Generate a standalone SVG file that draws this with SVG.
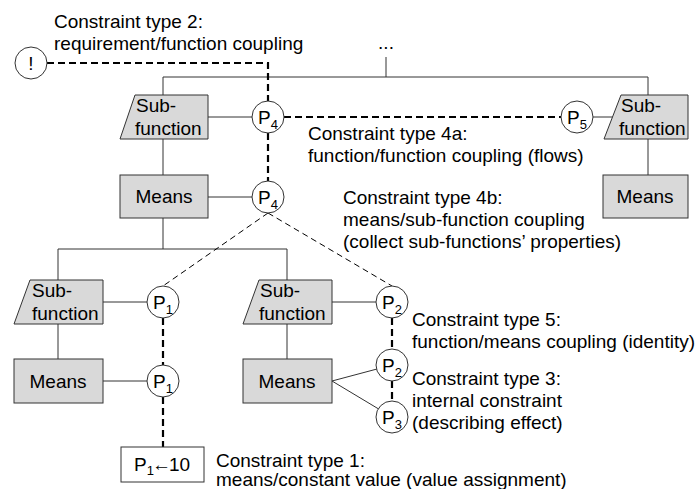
<svg xmlns="http://www.w3.org/2000/svg" width="696" height="489" viewBox="0 0 696 489">
  <style>
    text { font-family: "Liberation Sans", Arial, sans-serif; font-size: 19px; fill: #000; }
    .sub { font-size: 13px; }
    .box { fill: #d9d9d9; stroke: #333; stroke-width: 1; }
    .val { fill: #fff; stroke: #333; stroke-width: 1; }
    .pc { fill: #fff; stroke: #333; stroke-width: 1; }
    .ln { fill: none; stroke: #333; stroke-width: 1; }
    .dash { fill: none; stroke: #000; stroke-width: 2.2; stroke-dasharray: 7 4; }
    .thin { fill: none; stroke: #000; stroke-width: 1; stroke-dasharray: 6 4; }
    .mid { text-anchor: middle; }
  </style>
  <rect width="696" height="489" fill="#fff"/>

  <!-- connectors: tree links (solid) and constraint couplings (dashed) -->
  <g id="connectors">
    <path class="ln" d="M386,57 V77 M163,77 H648 M163,77 V95 M648,77 V95
                        M163,139 V175 M163,218 V249 M648,139 V175
                        M58,249 H287 M58,249 V280 M58,324 V359 M287,249 V280 M287,324 V359
                        M208,117 H252 M593,117 H613 M103,302 H147 M332,302 H376
                        M208,197 H252 M103,381 H147
                        M332,381 L392,365 M332,381 L392,417"/>
    <path class="dash" d="M47,63 H268 V101"/>
    <path class="dash" d="M268,133 V181"/>
    <path class="dash" d="M284,117 H561"/>
    <path class="dash" d="M163,318 V365 M163,397 V447"/>
    <path class="dash" d="M392,318 V349 M392,381 V401"/>
    <path class="thin" d="M268,213 L163,286 M268,213 L392,286"/>
  </g>

  <!-- requirement -->
  <g id="req">
    <circle class="pc" cx="31" cy="63" r="16"/>
    <text class="mid" x="31" y="70">!</text>
  </g>
  <g id="ellipsis"><text class="mid" x="386" y="49">...</text></g>

  <!-- top level: left branch -->
  <g id="sf-top">
    <polygon class="box" points="135,95 208,95 208,139 120,139"/>
    <text x="136" y="112">Sub-</text>
    <text x="135" y="135">function</text>
  </g>
  <g id="p4-sf"><circle class="pc" cx="268" cy="117" r="16"/><text class="mid" x="268" y="124">P<tspan class="sub" dy="5">4</tspan></text></g>
  <g id="means-top">
    <rect class="box" x="120" y="175" width="88" height="43"/>
    <text class="mid" x="164" y="203">Means</text>
  </g>
  <g id="p4-m"><circle class="pc" cx="268" cy="197" r="16"/><text class="mid" x="268" y="204">P<tspan class="sub" dy="5">4</tspan></text></g>

  <!-- top level: right branch -->
  <g id="p5"><circle class="pc" cx="577" cy="117" r="16"/><text class="mid" x="577" y="124">P<tspan class="sub" dy="5">5</tspan></text></g>
  <g id="sf-right">
    <polygon class="box" points="621,95 688,95 688,139 604,139"/>
    <text x="621" y="112">Sub-</text>
    <text x="619" y="135">function</text>
  </g>
  <g id="means-right">
    <rect class="box" x="603" y="175" width="85" height="43"/>
    <text class="mid" x="645" y="203">Means</text>
  </g>

  <!-- lower level: left branch -->
  <g id="sf-left">
    <polygon class="box" points="30,280 103,280 103,324 14,324"/>
    <text x="32" y="297">Sub-</text>
    <text x="32" y="320">function</text>
  </g>
  <g id="p1-sf"><circle class="pc" cx="163" cy="302" r="16"/><text class="mid" x="163" y="309">P<tspan class="sub" dy="5">1</tspan></text></g>
  <g id="means-left">
    <rect class="box" x="14" y="359" width="89" height="44"/>
    <text class="mid" x="58" y="388">Means</text>
  </g>
  <g id="p1-m"><circle class="pc" cx="163" cy="381" r="16"/><text class="mid" x="163" y="388">P<tspan class="sub" dy="5">1</tspan></text></g>
  <g id="value">
    <rect class="val" x="121" y="447" width="83" height="35"/>
    <text class="mid" x="162" y="471">P<tspan class="sub" dy="4">1</tspan><tspan dy="-4" dx="-2">←</tspan><tspan dx="-2">10</tspan></text>
  </g>

  <!-- lower level: middle branch -->
  <g id="sf-mid">
    <polygon class="box" points="259,280 332,280 332,324 243,324"/>
    <text x="260" y="297">Sub-</text>
    <text x="259" y="320">function</text>
  </g>
  <g id="p2-sf"><circle class="pc" cx="392" cy="302" r="16"/><text class="mid" x="392" y="309">P<tspan class="sub" dy="5">2</tspan></text></g>
  <g id="means-mid">
    <rect class="box" x="243" y="359" width="89" height="44"/>
    <text class="mid" x="287" y="388">Means</text>
  </g>
  <g id="p2-m"><circle class="pc" cx="392" cy="365" r="16"/><text class="mid" x="392" y="372">P<tspan class="sub" dy="5">2</tspan></text></g>
  <g id="p3-m"><circle class="pc" cx="392" cy="417" r="16"/><text class="mid" x="392" y="424">P<tspan class="sub" dy="5">3</tspan></text></g>

  <!-- constraint type labels -->
  <g id="labels">
    <text x="54" y="28">Constraint type 2:</text>
    <text x="54" y="50">requirement/function coupling</text>
    <text x="308" y="140">Constraint type 4a:</text>
    <text x="308" y="162">function/function coupling (flows)</text>
    <text x="343" y="204">Constraint type 4b:</text>
    <text x="343" y="226">means/sub-function coupling</text>
    <text x="343" y="248">(collect sub-functions’ properties)</text>
    <text x="412" y="326">Constraint type 5:</text>
    <text x="412" y="348">function/means coupling (identity)</text>
    <text x="412" y="385">Constraint type 3:</text>
    <text x="412" y="407">internal constraint</text>
    <text x="412" y="429">(describing effect)</text>
    <text x="216" y="467">Constraint type 1:</text>
    <text x="216" y="486">means/constant value (value assignment)</text>
  </g>
</svg>
